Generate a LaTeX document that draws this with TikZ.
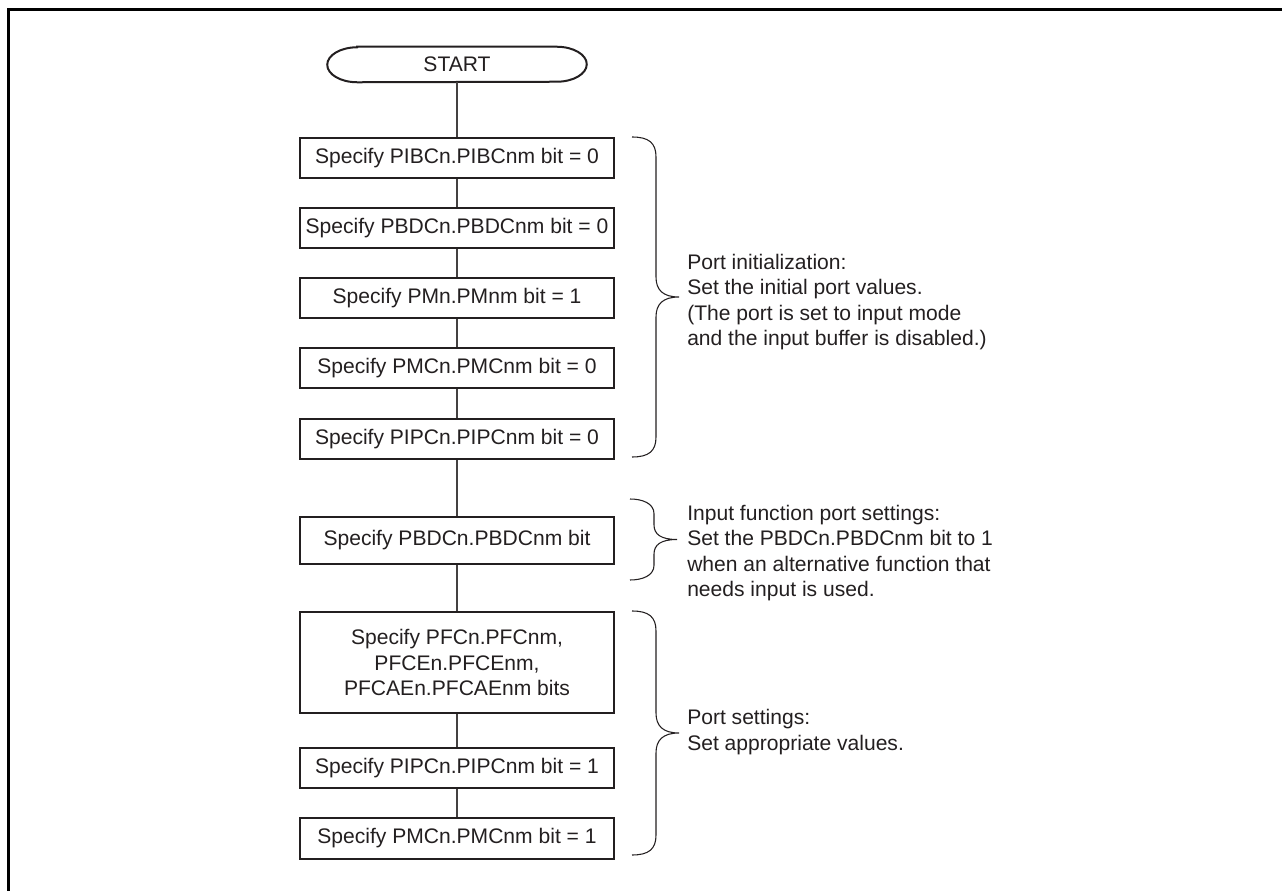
\documentclass[tikz,border=0pt]{standalone}
\usepackage{fontspec}
\setmainfont{Liberation Sans}
\usepackage{tikz}
\usetikzlibrary{positioning,calc}
\definecolor{PORTink}{RGB}{35,31,32}

\tikzset{
  pics/sidebrace/.style={code={
    \pgfmathsetmacro\bcurl{min(20,#1/5.5)}
    \draw[braceline] (0,0) .. controls ({0.85*\bcurl},0) and (24,{-0.3*\bcurl}) .. (24,-\bcurl)
      -- (24,{-#1/2+\bcurl}) .. controls (24,{-#1/2+0.35*\bcurl}) and (31,-#1/2) .. (47,-#1/2)
      .. controls (31,-#1/2) and (24,{-#1/2-0.35*\bcurl}) .. (24,{-#1/2-\bcurl})
      -- (24,{-#1+\bcurl}) .. controls (24,{-#1+0.3*\bcurl}) and ({0.85*\bcurl},-#1) .. (0,-#1);
  }}
}

\begin{document}
\begin{tikzpicture}[x=0.75pt, y=0.75pt,
    every node/.style={font=\fontsize{15.8}{19}\selectfont, text=PORTink},
    box/.style={draw=PORTink, line width=1.5pt, minimum width=235.5pt, minimum height=30pt, inner sep=0pt, align=center},
    flowline/.style={draw=PORTink!85, line width=0.8pt},
    braceline/.style={draw=PORTink, line width=0.8pt},
    note/.style={anchor=west, align=left, inner sep=0pt}]
    \useasboundingbox (0,0) rectangle (1282,-891);
    \draw[line width=2.25pt] (8,-891) -- (8,-9.5) -- (1282,-9.5);

    % terminal
    \node (start) [minimum width=194.25pt, minimum height=26.25pt, inner sep=0pt] at (457,-64.5) {START};
    \draw[draw=PORTink, line width=1.5pt] ([xshift=22.5pt]start.north west) -- ([xshift=-22.5pt]start.north east)
        arc[start angle=90, end angle=-90, x radius=22.5pt, y radius=13.125pt]
        -- ([xshift=22.5pt]start.south west)
        arc[start angle=270, end angle=90, x radius=22.5pt, y radius=13.125pt] -- cycle;

    % steps
    \node[box] (b1) at (457,-158) {Specify PIBCn.PIBCnm bit = 0};
    \node[box] (b2) at (457,-228) {Specify PBDCn.PBDCnm bit = 0};
    \node[box] (b3) at (457,-298) {Specify PMn.PMnm bit = 1};
    \node[box] (b4) at (457,-368) {Specify PMCn.PMCnm bit = 0};
    \node[box] (b5) at (457,-439) {Specify PIPCn.PIPCnm bit = 0};
    \node[box, minimum height=35.25pt] (b6) at (457,-540.5) {Specify PBDCn.PBDCnm bit};
    \node[box, minimum height=75.75pt] (b7) at (457,-662.5) {Specify PFCn.PFCnm,\\PFCEn.PFCEnm,\\PFCAEn.PFCAEnm bits};
    \node[box] (b8) at (457,-768) {Specify PIPCn.PIPCnm bit = 1};
    \node[box, minimum height=30.75pt] (b9) at (457,-838.5) {Specify PMCn.PMCnm bit = 1};

    \draw[flowline] (start) -- (b1) -- (b2) -- (b3) -- (b4) -- (b5) -- (b6) -- (b7) -- (b8) -- (b9);

    % braces and notes
    \pic at ([xshift=12.75pt]b1.north east) {sidebrace=320};
    \pic at (630,-499) {sidebrace=81};
    \pic at ([xshift=12.75pt]b7.north east) {sidebrace=244};

    \node[note] (initnote) at (687,-302) {Port initialization:\\Set the initial port values.\\(The port is set to input mode\\and the input buffer is disabled.)};
    \node[note] (inputnote) at (687,-553) {Input function port settings:\\Set the PBDCn.PBDCnm bit to 1\\when an alternative function that\\needs input is used.};
    \node[note] (setnote) at (687,-732) {Port settings:\\Set appropriate values.};
\end{tikzpicture}
\end{document}
